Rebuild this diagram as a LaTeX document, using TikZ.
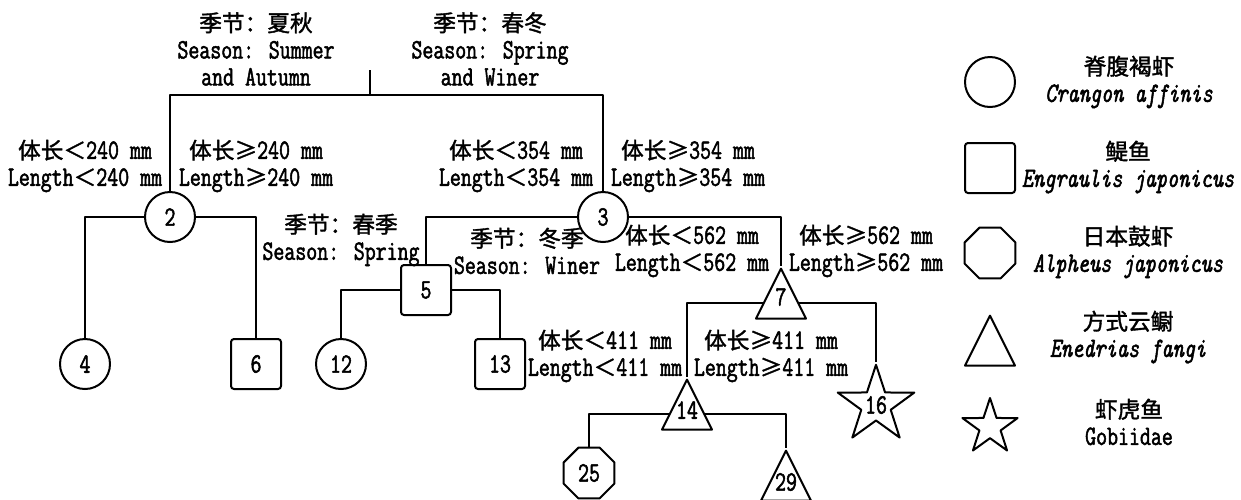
\documentclass[tikz,border=0pt]{standalone}
\usepackage{fontspec}
\setmainfont{Latin Modern Mono}[FakeStretch=0.76,FakeBold=1.8]
\newfontfamily\cjk[Scale=0.81,FakeBold=1.5]{Noto Sans CJK SC}
\usetikzlibrary{shapes.geometric}
\newcommand\zh[1]{{\cjk #1}}
\begin{document}
\begin{tikzpicture}[x=1pt,y=-1pt,line width=2pt,line join=round,
  every node/.style={font=\fontsize{28}{27}\selectfont},
  lbl/.style={align=center,inner sep=0pt},
  num/.style={inner sep=0pt},
  ccirc/.style={circle,draw,minimum size=50pt,inner sep=0pt},
  csq/.style={rectangle,draw,rounded corners=3pt,minimum size=50pt,inner sep=0pt},
  coct/.style={regular polygon,regular polygon sides=8,draw,minimum size=55pt,inner sep=0pt},
  ctri/.style={isosceles triangle,isosceles triangle stretches,shape border rotate=90,draw,
     minimum width=50pt,minimum height=50pt,inner sep=0pt,anchor=apex},
  cstar/.style={star,star points=5,star point ratio=2.6,draw,minimum size=58pt,inner sep=0pt}]
\useasboundingbox (0,0) rectangle (1241,499);
% tree nodes
\node[ccirc] (n2) at (170,217) {2};
\node[ccirc] (n3) at (603,217) {3};
\node[ccirc] (n4) at (85,364) {4};
\node[csq] (n6) at (256,364) {6};
\node[csq] (n5) at (426,290) {5};
\node[ccirc] (n12) at (341,364) {12};
\node[csq] (n13) at (500,364) {13};
\node[ctri] (n7) at (781,266) {};
\node[num] (t7) at (781,297) {7};
\node[ctri] (n14) at (687,377) {};
\node[num] (t14) at (687,410) {14};
\node[cstar] (n16) at (876,405) {16};
\node[coct] (n25) at (589,473) {25};
\node[ctri] (n29) at (786,448) {};
\node[num] (t29) at (786,482) {29};
% root
\coordinate (r0) at (370,70);
\coordinate (r1) at (370,95);
\draw (r0) -- (r1);
\draw (r1) -| (n2.north);
\draw (r1) -| (n3.north);
\draw (n2.west) -| (n4.north);
\draw (n2.east) -| (n6.north);
\draw (n3.west) -| (n5.north);
\draw (n3.east) -| (n7.apex);
\draw (n5.west) -| (n12.north);
\draw (n5.east) -| (n13.north);
\draw (n7.west) -| (n14.apex);
\draw (n7.east) -| (n16.north);
\draw (n14.west) -| (n25.north);
\draw (n14.east) -| (n29.apex);
% labels
\node[lbl] (L1) at (256,49) {\zh{季节：夏秋}\\Season: Summer\\and Autumn};
\node[lbl] (L2) at (490,49) {\zh{季节：春冬}\\Season: Spring\\and Winer};
\node[lbl] (L3) at (85,166) {\zh{体长＜}240 mm\\Length\zh{＜}240 mm};
\node[lbl] (L4) at (256,166) {\zh{体长≥}240 mm\\Length\zh{≥}240 mm};
\node[lbl] (L5) at (516,166) {\zh{体长＜}354 mm\\Length\zh{＜}354 mm};
\node[lbl] (L6) at (688,166) {\zh{体长≥}354 mm\\Length\zh{≥}354 mm};
\node[lbl] (L7) at (341,240) {\zh{季节：春季}\\Season: Spring};
\node[lbl] (L8) at (527,251) {\zh{季节：冬季}\\Season: Winer};
\node[lbl] (L9) at (692,251) {\zh{体长＜}562 mm\\Length\zh{＜}562 mm};
\node[lbl] (L10) at (866,251) {\zh{体长≥}562 mm\\Length\zh{≥}562 mm};
\node[lbl] (L11) at (605,356) {\zh{体长＜}411 mm\\Length\zh{＜}411 mm};
\node[lbl] (L12) at (771,356) {\zh{体长≥}411 mm\\Length\zh{≥}411 mm};
% legend
\node[ccirc] (g1) at (990,82) {};
\node[csq] (g2) at (990,168) {};
\node[coct] (g3) at (990,253) {};
\node[ctri] (g4) at (990,313) {};
\node[cstar] (g5) at (990,427) {};
\node[lbl] (G1) at (1129,82) {\zh{脊腹褐虾}\\\itshape Crangon affinis};
\node[lbl] (G2) at (1128,167) {\zh{鳀鱼}\\\itshape Engraulis japonicus};
\node[lbl] (G3) at (1128,252) {\zh{日本鼓虾}\\\itshape Alpheus japonicus};
\node[lbl] (G4) at (1128,337) {\zh{方式云鳚}\\\itshape Enedrias fangi};
\node[lbl] (G5) at (1129,422) {\zh{虾虎鱼}\\Gobiidae};
\end{tikzpicture}
\end{document}
